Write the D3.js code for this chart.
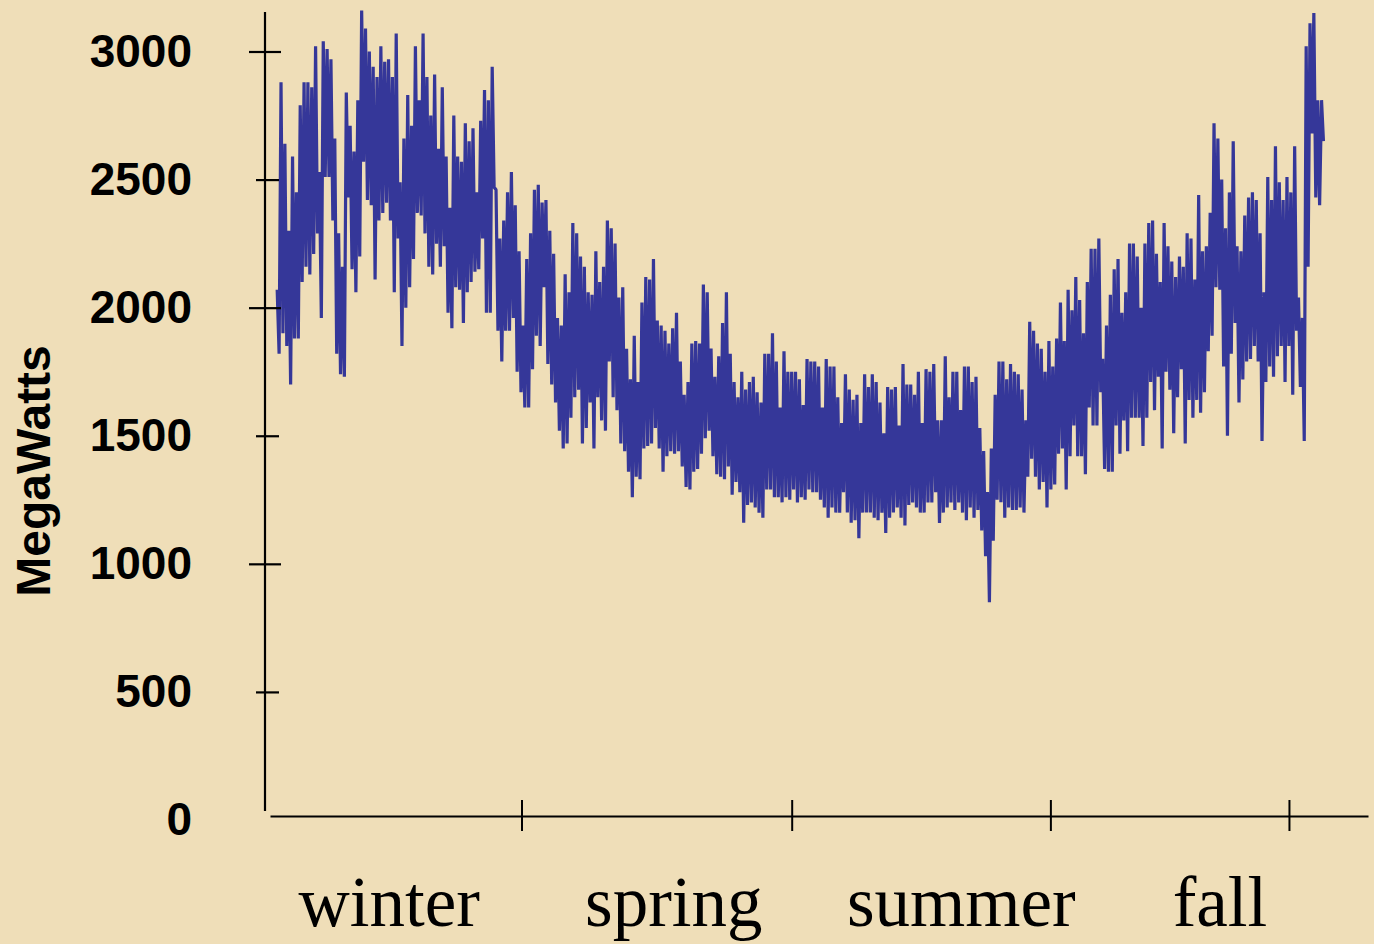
<!DOCTYPE html>
<html><head><meta charset="utf-8">
<script src="https://cdn.jsdelivr.net/npm/d3@7"></script>
<style>
html,body{margin:0;padding:0;background:#EFDEB8;}
svg{display:block;}
</style></head><body>
<svg id="chart" width="1374" height="944"></svg>
<script>
// ---- data ----
const yTicks = [0, 500, 1000, 1500, 2000, 2500, 3000];
const seasons = ["winter", "spring", "summer", "fall"];
const seasonEdgeDays = [86, 180, 270, 353];     // season boundaries (day of year)
const seasonLabelDays = [40, 139, 239, 329];    // where each season name sits
const firstDay = 1, lastDay = 365;

// successive peak / trough loads (MW) through the year
const loadHigh = [
2070,2880,2640,2300,2590,2450,2790,2880,2880,2860,3020,2530,3040,3010,2970,2660,2290,2160,2840,2710,
2610,2810,3160,3090,3000,2940,2900,3020,2960,2970,2900,3070,2490,2660,2830,2710,3020,2810,3070,2900,
2750,2910,2620,2860,2590,2390,2750,2590,2570,2720,2650,2700,2450,2730,2850,2810,2940,
2460,2270,2340,2450,2530,2400,2220,1930,2190,2290,2460,2480,2410,2420,2300,2210,1960,1930,2130,2060,
2330,2290,2200,2160,2060,2050,2220,2100,2160,2340,2310,2250,2040,2080,1840,1720,1890,1710,2020,2120,
2110,2190,1950,1930,1910,1860,1920,1980,1790,1660,1710,1860,1870,1860,2090,2060,1840,1730,1810,1940,
2060,1820,1710,1650,1750,1680,1710,1730,1670,1630,1820,1820,1900,1790,1610,1830,1750,1750,
1750,1720,1620,1800,1790,1790,1770,1610,1800,1770,1770,1650,1550,1740,1680,1640,1660,1550,1740,1690,
1740,1710,1630,1510,1690,1680,1690,1540,1780,1700,1700,1660,1750,1550,1760,1750,1780,1560,1560,1810,
1650,1750,1750,1600,1770,1770,1710,1730,1530,1440,1280,1450,1660,1790,1790,1720,1780,1750,1740,1680,
1560,1945,1910,1860,1840,1750,1870,1770,1880,
2020,1870,2070,1990,2120,2030,1900,2100,2230,2230,2270,1800,1930,2050,2150,2190,1980,2060,2250,2250,
2200,2000,2250,2330,2340,2210,2100,2330,2240,2180,2120,2200,2160,2290,2270,2110,2440,2220,2240,2370,
2720,2660,2500,2310,2450,2650,2240,2220,2360,2430,2450,2420,2290,2060,2510,2420,2630,2490,2420,2510,
2450,2630,2040,1960,3020,3110,3150,2810,2810
];
const loadLow = [
1820,1900,1850,1700,1880,1880,2100,2160,2130,2210,2290,1960,2510,2510,2340,1820,1740,1730,2430,2150,
2060,2200,2570,2420,2400,2110,2340,2370,2410,2340,2060,2270,1850,2000,2080,2190,2370,2360,2290,2160,
2130,2250,2160,2240,1980,1920,2080,2070,1940,2060,2100,2140,2150,2270,1980,1980,2470,
1910,1790,1910,1910,1960,1750,1670,1610,1610,1760,1890,1850,2080,1780,1700,1630,1520,1450,1470,1570,
1650,1680,1470,1530,1630,1450,1650,1560,1520,1790,1650,1600,1470,1440,1360,1260,1340,1330,1450,1460,
1470,1530,1450,1360,1420,1440,1430,1440,1380,1300,1290,1360,1370,1430,1490,1520,1420,1350,1340,1330,
1380,1270,1320,1280,1160,1230,1240,1220,1200,1180,1290,1290,1260,1260,1240,1260,1250,1290,
1240,1260,1250,1290,1280,1280,1250,1220,1180,1220,1200,1200,1280,1200,1160,1170,1100,1200,1200,1200,
1180,1170,1200,1120,1180,1200,1220,1180,1150,1230,1240,1220,1200,1200,1240,1240,1280,1160,1200,1220,
1240,1210,1240,1200,1170,1220,1180,1210,1130,1030,850,1090,1250,1240,1180,1220,1210,1210,1220,1200,
1340,1410,1340,1290,1320,1220,1290,1310,1430,
1450,1290,1420,1540,1420,1420,1350,1610,1540,1540,1670,1370,1360,1360,1540,1430,1560,1440,1570,1570,
1570,1460,1570,1710,1600,1730,1450,1750,1680,1510,1650,1760,1470,1640,1570,1640,1590,1670,1830,1890,
2080,2070,1770,1500,1820,1940,1630,1720,1790,1800,1850,1790,1480,1710,1770,1730,1810,1850,1710,1850,
1660,1910,1690,1480,2160,2680,2430,2400,2650
];

// ---- build ----
const svg = d3.select("#chart");
const W = 1374, H = 944;
svg.append("rect").attr("width", W).attr("height", H).attr("fill", "#EFDEB8");

const x = d3.scaleLinear().domain([-1.5, 380.5]).range([270, 1368]);
const y = d3.scaleLinear().domain([0, 3000]).range([820, 51.5]);

const pts = [];
const n = loadHigh.length;
const m = 2 * n;
for (let i = 0; i < n; i++) {
  pts.push({ k: 2 * i, v: loadHigh[i] });
  pts.push({ k: 2 * i + 1, v: loadLow[i] });
}
const dayOf = k => firstDay + k * (lastDay - firstDay) / (m - 1);

// data line
svg.append("path")
  .datum(pts)
  .attr("fill", "none")
  .attr("stroke", "#353799")
  .attr("stroke-width", 3.2)
  .attr("stroke-linejoin", "bevel")
  .attr("d", d3.line().x(d => x(dayOf(d.k))).y(d => y(d.v)));

// y axis
const yAxis = svg.append("g").attr("transform", "translate(265,0)")
  .call(d3.axisLeft(y).tickValues(yTicks).tickSize(0).tickPadding(73).tickFormat(d3.format("d")));
yAxis.select(".domain").remove();
yAxis.selectAll(".tick line")
  .attr("stroke", "#000").attr("stroke-width", 2.2)
  .attr("x1", d => d === 0 ? 0 : (d % 1000 === 0 ? -16 : -9))
  .attr("x2", d => d === 0 ? 0 : (d % 1000 === 0 ? 16 : 14));
yAxis.selectAll(".tick text")
  .attr("fill", "#000")
  .style("font-family", "'Liberation Sans', Arial, sans-serif")
  .style("font-weight", "bold")
  .style("font-size", "46px");
svg.append("line").attr("x1", 265).attr("x2", 265).attr("y1", 12).attr("y2", 811)
  .attr("stroke", "#000").attr("stroke-width", 2.2);

// x axis
const xAxis = svg.append("g").attr("transform", "translate(0,816)")
  .call(d3.axisBottom(x).tickValues(seasonEdgeDays).tickSize(15).tickSizeOuter(0).tickFormat(""));
xAxis.select(".domain").attr("stroke", "#000").attr("stroke-width", 2.2);
xAxis.selectAll(".tick line").attr("stroke", "#000").attr("stroke-width", 2).attr("y1", -16);

// season labels
svg.append("g").selectAll("text").data(seasons).join("text")
  .attr("x", (d, i) => x(seasonLabelDays[i]))
  .attr("y", 926)
  .attr("text-anchor", "middle")
  .style("font-family", "'Liberation Serif', 'Times New Roman', serif")
  .style("font-size", "71px")
  .attr("fill", "#000")
  .text(d => d);

// y label
svg.append("text")
  .attr("transform", "translate(50,471) rotate(-90)")
  .attr("text-anchor", "middle")
  .style("font-family", "'Liberation Sans', Arial, sans-serif")
  .style("font-weight", "bold")
  .style("font-size", "48px")
  .attr("fill", "#000")
  .text("MegaWatts");
</script>
</body></html>
